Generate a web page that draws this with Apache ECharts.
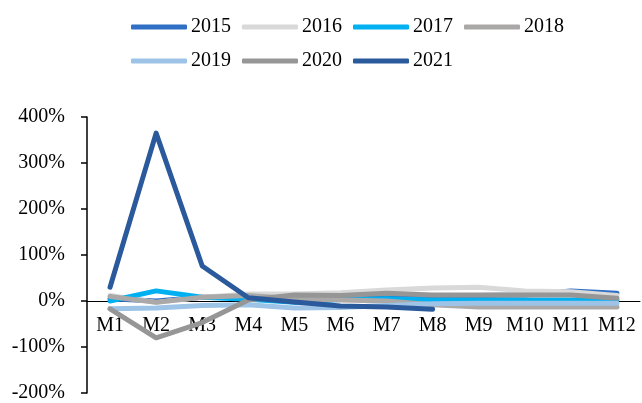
<!DOCTYPE html>
<html>
<head>
<meta charset="utf-8">
<script src="https://cdn.jsdelivr.net/npm/echarts@6/dist/echarts.min.js"></script>
<style>
  html, body { margin: 0; padding: 0; background: #fff; }
  #chart { width: 642px; height: 403px; }
</style>
</head>
<body>
<div id="chart"></div>
<script>
// Monthly growth rate by year (%)
const months = ['M1', 'M2', 'M3', 'M4', 'M5', 'M6', 'M7', 'M8', 'M9', 'M10', 'M11', 'M12'];
const yTicks = [-200, -100, 0, 100, 200, 300, 400];

const y2015 = [5, 0, 8, 10, 10, 12, 12, 12, 12, 13, 22, 17];
const y2016 = [12, -3, 8, 15, 15, 18, 24, 28, 30, 22, 20, 12];
const y2017 = [0, 22, 8, 4, -3, 3, 5, 2, 2, 2, 2, 2];
const y2018 = [10, -3, 8, 12, 5, 2, 0, -8, -13, -13, -13, -13];
const y2019 = [-17, -15, -10, -8, -15, -14, -10, -6, -5, -5, -5, -5];
const y2020 = [-17, -80, -47, 2, 13, 12, 17, 13, 13, 13, 13, 6];
const y2021 = [30, 365, 76, 7, -2, -11, -13, -18];

const seriesDefs = [
  { name: '2015', data: y2015, color: '#3070C4' },
  { name: '2016', data: y2016, color: '#D9D9D9' },
  { name: '2017', data: y2017, color: '#00B0F0' },
  { name: '2018', data: y2018, color: '#ABA8A8' },
  { name: '2019', data: y2019, color: '#9DC3E6' },
  { name: '2020', data: y2020, color: '#969696' },
  { name: '2021', data: y2021, color: '#2A5A9B' }
];

const font = 'Liberation Serif, Times New Roman, serif';

const gridTop = 117;
const gridBottom = 10;
const gridHeight = 403 - gridTop - gridBottom;
// distance of the zero line above the bottom of the plot area
const zeroLift = gridHeight * (0 - yTicks[0]) / (yTicks[yTicks.length - 1] - yTicks[0]);

const legendBase = {
  icon: 'roundRect',
  itemWidth: 56,
  itemHeight: 5,
  itemGap: 11,
  left: 131,
  padding: 0,
  textStyle: { fontFamily: font, fontSize: 20, color: '#000', padding: [0, 0, 0, -1] }
};

const chart = echarts.init(document.getElementById('chart'), null, { renderer: 'canvas' });
chart.setOption({
  animation: false,
  backgroundColor: '#fff',
  legend: [
    Object.assign({}, legendBase, { top: 17, data: ['2015', '2016', '2017', '2018'] }),
    Object.assign({}, legendBase, { top: 51, data: ['2019', '2020', '2021'] })
  ],
  grid: { left: 87, right: 2, top: gridTop, bottom: gridBottom, containLabel: false, outerBoundsMode: 'none' },
  xAxis: {
    type: 'category',
    data: months,
    boundaryGap: true,
    position: 'bottom',
    offset: -zeroLift,
    axisLine: { onZero: false, lineStyle: { color: '#000', width: 1 } },
    axisTick: { show: false },
    axisLabel: { fontFamily: font, fontSize: 20, color: '#000', margin: 15, interval: 0, hideOverlap: false },
    splitLine: { show: false }
  },
  yAxis: {
    type: 'value',
    min: yTicks[0],
    max: yTicks[yTicks.length - 1],
    interval: 100,
    axisLine: { show: true, lineStyle: { color: '#000', width: 1.5 } },
    axisTick: { show: true, inside: false, length: 6, lineStyle: { color: '#000', width: 1.5 } },
    axisLabel: { fontFamily: font, fontSize: 20, color: '#000', margin: 22, formatter: v => v + '%' },
    splitLine: { show: false }
  },
  series: seriesDefs.map(s => ({
    name: s.name,
    type: 'line',
    data: s.data,
    showSymbol: false,
    symbol: 'none',
    color: s.color,
    lineStyle: { color: s.color, width: 5, cap: 'round', join: 'round' },
    emphasis: { disabled: true }
  }))
});
</script>
</body>
</html>
